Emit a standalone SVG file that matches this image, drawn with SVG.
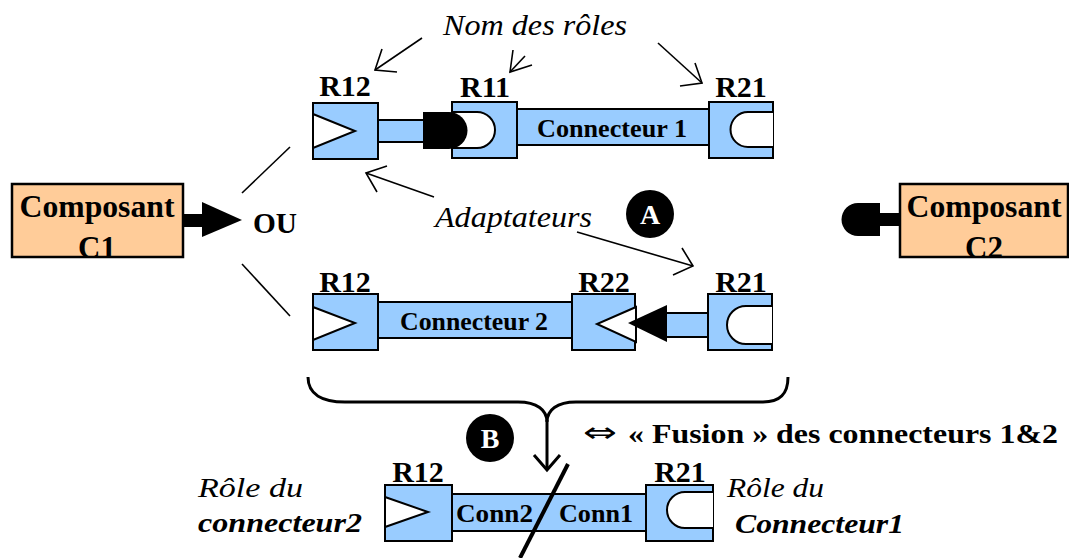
<svg xmlns="http://www.w3.org/2000/svg" width="1069" height="558" viewBox="0 0 1069 558">
<style>
text{font-family:"Liberation Serif",Tinos,"Nimbus Roman","Times New Roman",Times,serif;fill:#000}
.b{font-weight:bold}
.i{font-style:italic}
.lbl{font-weight:bold;font-size:30px;text-anchor:middle}
.role{fill:#99CCFF;stroke:#000;stroke-width:2}
.comp{fill:#FFCC99;stroke:#000;stroke-width:2.5}
.w{fill:#fff;stroke:#000;stroke-width:2}
.k{fill:#000}
.ln{stroke:#000;stroke-width:1.6;fill:none}
.brace{stroke:#000;stroke-width:3;fill:none}
</style>
<defs>
<clipPath id="cc1"><rect x="13" y="185" width="169" height="71"/></clipPath>
<clipPath id="cc2"><rect x="901" y="185" width="166" height="71"/></clipPath>
</defs>

<g id="connectors">
<line class="ln" x1="242" y1="193" x2="290" y2="147"/>
<line class="ln" x1="242" y1="264" x2="290" y2="316"/>
<polyline class="ln" points="422,38 375,70"/>
<polyline class="ln" points="382,49 375,70 397,72"/>
<polyline class="ln" points="525,56 510,72"/>
<polyline class="ln" points="513,50 510,72 532,65"/>
<polyline class="ln" points="658,43 702,83"/>
<polyline class="ln" points="695,63 702,83 680,86"/>
<polyline class="ln" points="434,197 366,173"/>
<polyline class="ln" points="377,192 366,173 387,166"/>
<polyline class="ln" points="577,232 693,266"/>
<polyline class="ln" points="682,248 693,266 673,275"/>
<path class="brace" d="M308,377 C308,394 322,402 345,402 H518 C537,402 547,410 547,422 C547,410 557,402 576,402 H763 C780,402 788,394 788,377"/>
<line class="brace" x1="547" y1="420" x2="547" y2="470"/>
<polyline class="brace" points="534,455 547,470 560,455"/>
</g>

<g id="labels">
<text font-family="Liberation Serif, serif" class="i" x="443" y="35" font-size="30" textLength="184" lengthAdjust="spacingAndGlyphs">Nom des rôles</text>
<text class="i" x="435" y="227" font-size="30" textLength="157" lengthAdjust="spacingAndGlyphs">Adaptateurs</text>
<text class="b" x="253" y="233" font-size="29" textLength="44" lengthAdjust="spacingAndGlyphs">OU</text>
</g>

<g id="compC1">
<rect class="comp" x="12" y="184" width="171" height="73"/>
<g clip-path="url(#cc1)">
<text class="b" x="97" y="217" font-size="31" text-anchor="middle" textLength="155" lengthAdjust="spacingAndGlyphs">Composant</text>
<text class="b" x="97" y="258" font-size="31" text-anchor="middle">C1</text>
</g>
<rect class="k" x="182" y="214" width="22" height="13"/>
<path class="k" d="M202,202 L242,220 L202,237 Z"/>
</g>

<g id="compC2">
<rect class="comp" x="900" y="184" width="168" height="73"/>
<g clip-path="url(#cc2)">
<text class="b" x="984" y="217" font-size="31" text-anchor="middle" textLength="155" lengthAdjust="spacingAndGlyphs">Composant</text>
<text class="b" x="984" y="258" font-size="31" text-anchor="middle">C2</text>
</g>
<rect class="k" x="877" y="213" width="23" height="13"/>
<path class="k" d="M880,203 H858 A16.5,16.5 0 0 0 858,236 H880 Z"/>
</g>

<g id="connecteur1">
<text class="lbl" x="345" y="96">R12</text>
<rect class="role" x="313" y="103" width="65" height="56"/>
<path class="w" d="M313,114 L355,131 L313,148 Z"/>
<rect class="role" x="378" y="120" width="47" height="22"/>
<text class="lbl" x="485" y="97">R11</text>
<rect class="role" x="452" y="102" width="65" height="56"/>
<path class="w" d="M452,112 H477 A18,18 0 0 1 477,148 H452 Z"/>
<path class="k" d="M423,112 H449 A18.5,18.5 0 0 1 449,149 H423 Z"/>
<rect class="role" x="517" y="109" width="192" height="36"/>
<text class="b" x="612" y="137" font-size="25" text-anchor="middle" textLength="150" lengthAdjust="spacingAndGlyphs">Connecteur 1</text>
<text class="lbl" x="741" y="97">R21</text>
<rect class="role" x="709" y="102" width="64" height="56"/>
<path class="w" d="M773,112 H748 A17.5,17.5 0 0 0 748,147 H773"/>
</g>

<g id="badgeA">
<circle class="k" cx="650" cy="214" r="24"/>
<text class="b" x="650" y="224" font-size="28" text-anchor="middle" style="fill:#fff">A</text>
</g>

<g id="connecteur2">
<text class="lbl" x="345" y="292">R12</text>
<rect class="role" x="313" y="294" width="65" height="56"/>
<path class="w" d="M313,307 L355,323 L313,340 Z"/>
<rect class="role" x="378" y="302" width="194" height="36"/>
<text class="b" x="474" y="330" font-size="25" text-anchor="middle" textLength="148" lengthAdjust="spacingAndGlyphs">Connecteur 2</text>
<text class="lbl" x="604" y="292">R22</text>
<rect class="role" x="572" y="294" width="63" height="56"/>
<path class="w" d="M636,307 L597,324 L636,342 Z"/>
<rect class="role" x="664" y="313" width="44" height="24"/>
<path class="k" d="M628,323 L667,305 L667,342 Z"/>
<text class="lbl" x="741" y="292">R21</text>
<rect class="role" x="708" y="294" width="64" height="56"/>
<path class="w" d="M772,306 H746 A19,19 0 0 0 746,344 H772"/>
</g>

<g id="badgeB">
<circle class="k" cx="490" cy="438" r="24"/>
<text class="b" x="490" y="448" font-size="28" text-anchor="middle" style="fill:#fff">B</text>
</g>

<g id="fusionLabel">
<text x="583" y="442" font-size="28" textLength="34" lengthAdjust="spacingAndGlyphs" style="font-family:'DejaVu Sans',sans-serif">⇔</text>
<text class="b" x="628" y="443" font-size="28" textLength="430" lengthAdjust="spacingAndGlyphs">« Fusion » des connecteurs 1&amp;2</text>
</g>

<g id="connecteurFusion">
<text class="lbl" x="418" y="482">R12</text>
<rect class="role" x="385" y="485" width="67" height="56"/>
<path class="w" d="M385,497 L428,512 L385,527 Z"/>
<rect class="role" x="452" y="494" width="194" height="37"/>
<text class="b" x="456" y="522" font-size="25" textLength="77" lengthAdjust="spacingAndGlyphs">Conn2</text>
<text class="b" x="559" y="522" font-size="25" textLength="74" lengthAdjust="spacingAndGlyphs">Conn1</text>
<text class="lbl" x="680" y="482">R21</text>
<rect class="role" x="646" y="485" width="67" height="56"/>
<path class="w" d="M713,492 H685 A18,18 0 0 0 685,528 H713"/>
<line x1="568" y1="464" x2="520" y2="558" stroke="#000" stroke-width="4"/>
</g>

<g id="roleNotes">
<text class="i" x="198" y="497" font-size="28" textLength="105" lengthAdjust="spacingAndGlyphs">Rôle  du</text>
<text class="i b" x="198" y="532" font-size="28" textLength="164" lengthAdjust="spacingAndGlyphs">connecteur2</text>
<text class="i" x="727" y="497" font-size="28" textLength="97" lengthAdjust="spacingAndGlyphs">Rôle du</text>
<text class="i b" x="735" y="533" font-size="28" textLength="169" lengthAdjust="spacingAndGlyphs">Connecteur1</text>
</g>
</svg>
